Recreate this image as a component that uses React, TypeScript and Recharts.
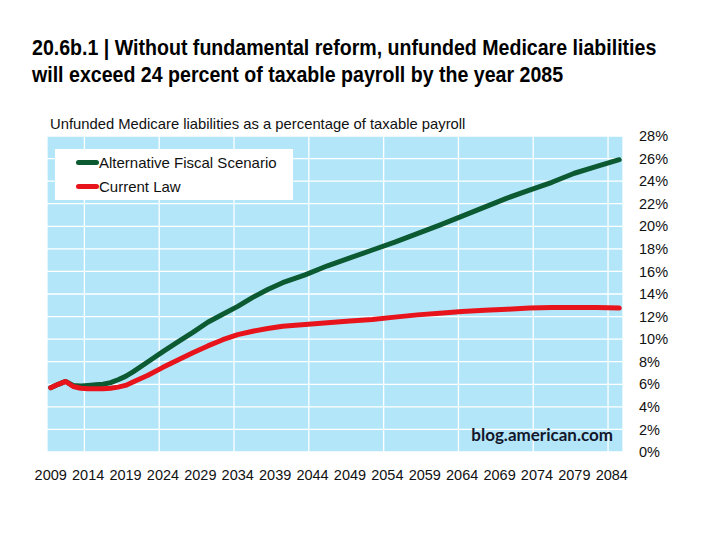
import { LineChart, Line, XAxis, YAxis, CartesianGrid, Legend } from 'recharts';

const years = [
  2009, 2010, 2011, 2012, 2013, 2014, 2015, 2016, 2017, 2018, 2019, 2020, 2022, 2024, 2026, 2028, 2030,
  2032, 2034, 2036, 2038, 2040, 2043, 2046, 2049, 2052, 2055, 2058, 2061, 2064, 2067, 2070, 2073, 2076,
  2079, 2082, 2085,
];

// Alternative Fiscal Scenario, % of taxable payroll
const altFiscal = [
  5.7, 6.0, 6.25, 5.9, 5.85, 5.9, 5.95, 6.0, 6.15, 6.4, 6.7, 7.1, 8.0, 8.9, 9.75, 10.6, 11.5,
  12.2, 12.9, 13.7, 14.4, 15.0, 15.7, 16.5, 17.2, 17.9, 18.6, 19.35, 20.1, 20.9, 21.7, 22.5, 23.2, 23.9,
  24.7, 25.3, 25.9,
];

// Current Law, % of taxable payroll
const currentLaw = [
  5.7, 6.0, 6.25, 5.8, 5.65, 5.6, 5.6, 5.6, 5.65, 5.75, 5.9, 6.2, 6.8, 7.5, 8.15, 8.8, 9.4,
  9.95, 10.4, 10.7, 10.95, 11.15, 11.3, 11.45, 11.6, 11.75, 11.95, 12.15, 12.3, 12.45, 12.55, 12.65, 12.75, 12.8,
  12.8, 12.8, 12.75,
];

const xTicks = [2009, 2014, 2019, 2024, 2029, 2034, 2039, 2044, 2049, 2054, 2059, 2064, 2069, 2074, 2079, 2084];
const gridYears = [2008.5, 2013.5, 2018.5, 2023.5, 2028.5, 2033.5, 2038.5, 2043.5, 2048.5, 2053.5, 2058.5, 2063.5, 2068.5, 2073.5, 2078.5, 2083.5];
const yTicks = [0, 2, 4, 6, 8, 10, 12, 14, 16, 18, 20, 22, 24, 26, 28];

const series = [
  { key: 'alt', name: 'Alternative Fiscal Scenario', color: '#0b5a32' },
  { key: 'current', name: 'Current Law', color: '#e8141c' },
];

const data = years.map((year, i) => ({ year, alt: altFiscal[i], current: currentLaw[i] }));

const sans = '"Liberation Sans", Arial, sans-serif';

function renderLegend() {
  return (
    <div style={{ background: '#fff', width: 238, height: 50, paddingTop: 1 }}>
      {series.map((s) => (
        <div key={s.key} style={{ display: 'flex', alignItems: 'center', height: 24, paddingLeft: 21 }}>
          <span style={{ display: 'inline-block', width: 23, height: 5, borderRadius: 3, background: s.color }} />
          <span style={{ fontFamily: sans, fontSize: 15, color: '#111' }}>{s.name}</span>
        </div>
      ))}
    </div>
  );
}

export default function App() {
  return (
    <div style={{ position: 'absolute', top: 0, left: 0, width: 720, height: 540, background: '#fff', overflow: 'hidden' }}>
      {/* narrow bold title: no Arial Narrow here, so squeeze the regular bold face */}
      <div
        style={{
          position: 'absolute',
          left: 32,
          top: 34,
          fontFamily: sans,
          fontWeight: 'bold',
          fontSize: 22,
          lineHeight: '27px',
          color: '#000',
          whiteSpace: 'nowrap',
          transform: 'scaleX(0.89)',
          transformOrigin: 'left top',
        }}
      >
        <div>20.6b.1 | Without fundamental reform, unfunded Medicare liabilities</div>
        <div>will exceed 24 percent of taxable payroll by the year 2085</div>
      </div>
      <div
        style={{
          position: 'absolute',
          left: 50,
          top: 117,
          fontFamily: sans,
          fontSize: 14.8,
          lineHeight: '14.8px',
          color: '#111',
          whiteSpace: 'nowrap',
        }}
      >
        Unfunded Medicare liabilities as a percentage of taxable payroll
      </div>

      <LineChart
        width={720}
        height={540}
        data={data}
        margin={{ top: 136, right: 37, bottom: 58, left: 47 }}
        style={{ position: 'absolute', top: 0, left: 0 }}
      >
        <CartesianGrid
          xAxisId="grid"
          fill="#b4e6fa"
          stroke="#ffffff"
          strokeWidth={1.3}
          strokeOpacity={1}
        />
        <XAxis
          dataKey="year"
          type="number"
          domain={[2008.5, 2085.5]}
          ticks={xTicks}
          interval={0}
          axisLine={false}
          tickLine={false}
          tickSize={0}
          tickMargin={18}
          height={30}
          tick={{ fontFamily: sans, fontSize: 14.5, fill: '#111' }}
        />
        <XAxis xAxisId="grid" dataKey="year" type="number" domain={[2008.5, 2085.5]} ticks={gridYears} hide />
        <YAxis
          orientation="right"
          type="number"
          domain={[0, 28]}
          ticks={yTicks}
          interval={0}
          axisLine={false}
          tickLine={false}
          tickSize={0}
          tickMargin={16}
          width={60}
          tickFormatter={(v) => `${v}%`}
          tick={{ fontFamily: sans, fontSize: 14.5, fill: '#111', textAnchor: 'start' }}
        />
        <Legend
          layout="vertical"
          align="center"
          verticalAlign="middle"
          content={renderLegend}
          wrapperStyle={{ left: 55, top: 149, width: 238, height: 50 }}
        />
        {series.map((s) => (
          <Line
            key={s.key}
            dataKey={s.key}
            name={s.name}
            type="linear"
            stroke={s.color}
            strokeWidth={5}
            strokeLinecap="round"
            strokeLinejoin="round"
            dot={false}
            activeDot={false}
            isAnimationActive={false}
          />
        ))}
      </LineChart>

      <div
        style={{
          position: 'absolute',
          right: 107,
          top: 426,
          fontFamily: 'Lato, "Open Sans", sans-serif',
          fontWeight: 'bold',
          fontSize: 17,
          lineHeight: '17px',
          color: '#13172b',
          whiteSpace: 'nowrap',
        }}
      >
        blog.american.com
      </div>
    </div>
  );
}
